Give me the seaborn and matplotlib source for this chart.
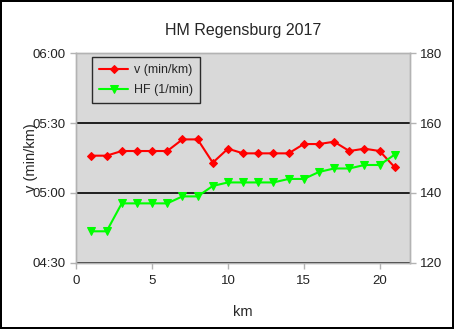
import matplotlib
matplotlib.use('Agg')
import matplotlib.pyplot as plt
import seaborn as sns
import pandas as pd
from matplotlib.ticker import FuncFormatter, MultipleLocator

km = list(range(1, 22))
pace = ["5:16", "5:16", "5:18", "5:18", "5:18", "5:18", "5:23", "5:23", "5:13", "5:19",
        "5:17", "5:17", "5:17", "5:17", "5:21", "5:21", "5:22", "5:18", "5:19", "5:18", "5:11"]
hf = [129, 129, 137, 137, 137, 137, 139, 139, 142, 143, 143, 143, 143, 144, 144,
      146, 147, 147, 148, 148, 151]

title = "HM Regensburg 2017"
label_v = "v (min/km)"
label_hf = "HF (1/min)"

def to_sec(s):
    m, sec = s.split(":")
    return int(m) * 60 + int(sec)

df = pd.DataFrame({"km": km, "v": [to_sec(p) for p in pace], "hf": hf})

sns.set_style("white")
plt.rcParams['font.family'] = ['Liberation Sans', 'DejaVu Sans']

fig = plt.figure(figsize=(4.54, 3.29), dpi=100)
fig.patch.set_facecolor('white')
fig.patch.set_edgecolor('black')
fig.patch.set_linewidth(1.5)
ax = fig.add_axes([0.168, 0.2015, 0.735, 0.6365])
ax.set_facecolor('#d9d9d9')

sns.lineplot(data=df, x="km", y="v", ax=ax, color='#ff0000', marker='D',
             markersize=4.2, markeredgecolor='#ff0000', linewidth=1.5, label=label_v, legend=False)
ax2 = ax.twinx()
sns.lineplot(data=df, x="km", y="hf", ax=ax2, color='#00ff00', marker='v',
             markersize=5.8, markeredgecolor='#00ff00', linewidth=1.5, label=label_hf, legend=False)

ax.set_xlim(0, 22)
ax.set_ylim(4 * 60 + 30, 6 * 60)
ax.yaxis.set_major_locator(MultipleLocator(30))
ax.yaxis.set_major_formatter(FuncFormatter(lambda v, p: f"{int(v)//60:02d}:{int(v)%60:02d}"))
ax.xaxis.set_major_locator(MultipleLocator(5))
ax2.set_ylim(120, 180)
ax2.yaxis.set_major_locator(MultipleLocator(20))

ax.grid(axis='y', color='black', linewidth=1.2)
ax.grid(axis='x', visible=False)
ax.set_axisbelow(True)

for a in (ax, ax2):
    for s in a.spines.values():
        s.set_color('#b3b3b3')
        s.set_linewidth(1)
    a.tick_params(axis='both', which='both', direction='out', length=4, width=1,
                  color='#b3b3b3', labelsize=9.5, labelcolor='#222222')
ax.tick_params(axis='both', left=True, bottom=True)
ax.tick_params(axis='x', pad=5)
ax2.tick_params(axis='y', right=True)

ax.set_title(title, fontsize=11.5, pad=13)
ax.set_xlabel("km", fontsize=10.5, labelpad=13)
ax.set_ylabel(label_v, fontsize=10.5)
ax.yaxis.set_label_coords(-0.115, 0.5)
ax2.set_ylabel("")

h1, l1 = ax.get_legend_handles_labels()
h2, l2 = ax2.get_legend_handles_labels()
leg = ax2.legend(h1 + h2, l1 + l2, loc='upper left', bbox_to_anchor=(0.048, 0.981),
                 borderaxespad=0, fontsize=9, frameon=True, fancybox=False, numpoints=1,
                 handlelength=2.3, handletextpad=0.5, borderpad=0.55, labelspacing=0.65)
leg.get_frame().set_edgecolor('black')
leg.get_frame().set_facecolor('#d9d9d9')
leg.get_frame().set_linewidth(1)

fig.savefig("out.png", dpi=100)
